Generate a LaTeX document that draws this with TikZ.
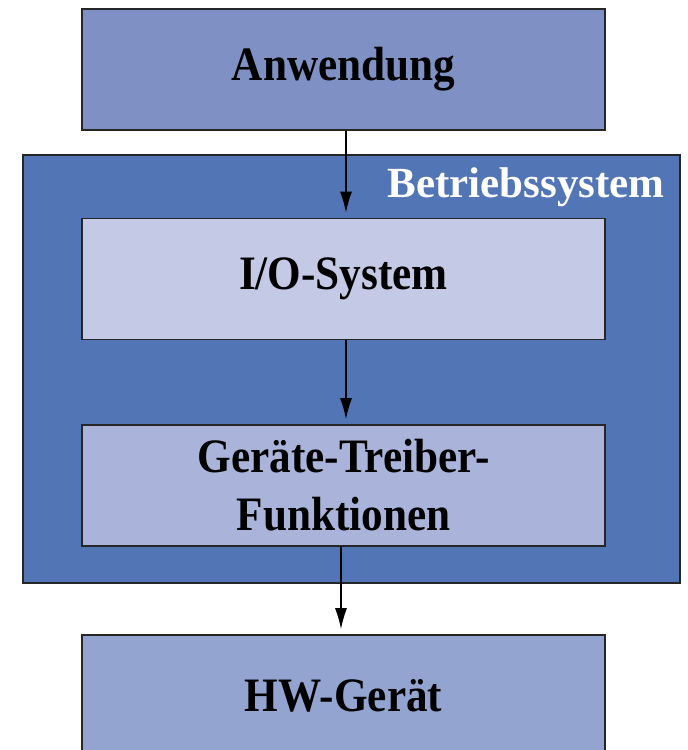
\documentclass[tikz,border=0pt]{standalone}
\usepackage{fontspec}
\setmainfont{Liberation Serif}
\newfontfamily\layerfont{Liberation Serif}[FakeStretch=0.9]
\usetikzlibrary{arrows.meta}
\definecolor{anwblue}{HTML}{7F91C4}
\definecolor{osblue}{HTML}{5276B5}
\definecolor{ioblue}{HTML}{C4CAE6}
\definecolor{drvblue}{HTML}{AAB4DA}
\definecolor{hwblue}{HTML}{93A4D0}
\tikzset{
	layer/.style={draw=black!85, line width=0.8pt, minimum width=261.5pt, minimum height=60.5pt, align=center, font=\layerfont\bfseries\fontsize{24}{29}\selectfont, inner sep=0pt},
	flow/.style={line width=0.7pt, -{Latex[length=10.5pt, width=6pt]}, shorten >=2.5pt}
}

\begin{document}
\begin{tikzpicture}[x=0.5pt, y=-0.5pt]
		%%%%% START %%%%%
		\clip (0, 0) rectangle (688, 750);
		
		% Betriebssystem
		\node[draw=black!85, line width=0.8pt, fill=osblue, minimum width=328.5pt, minimum height=214pt, inner sep=0pt] (os) at (351.5, 369) {};
		\node[anchor=base east, text=white, font=\bfseries\fontsize{21.5}{30}\selectfont, inner sep=0pt] (oslabel) at (665, 197) {Betriebssystem};
		
		\node[layer, fill=anwblue] (anw) at (343.5, 69.5) {Anwendung};
		\node[layer, fill=ioblue] (io) at (343.5, 279) {I/O-System};
		\node[layer, fill=drvblue] (drv) at (343.5, 485.5) {Geräte-Treiber-\\Funktionen};
		\node[layer, fill=hwblue] (hw) at (343.5, 695.5) {HW-Gerät};
		
		\draw[flow] ([xshift=1.25pt]anw.south) -- ([xshift=1.25pt]io.north);
		\draw[flow] ([xshift=1.25pt]io.south) -- ([xshift=1.25pt]drv.north);
		\draw[flow] ([xshift=-1.25pt]drv.south) -- ([xshift=-1.25pt]hw.north);
		%%%%% END %%%%%
	\end{tikzpicture}
\end{document}
